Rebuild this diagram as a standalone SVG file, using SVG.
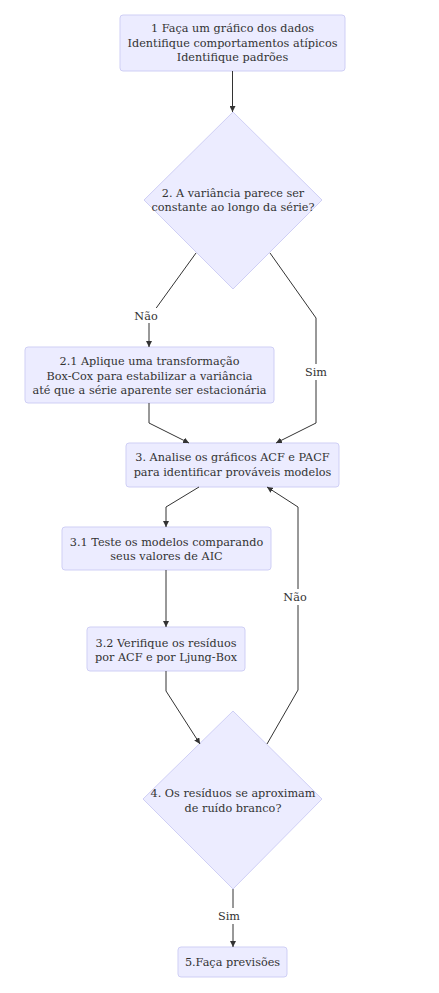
<svg xmlns="http://www.w3.org/2000/svg" width="439" height="993" viewBox="0 0 439 993">
<style>
  .node rect, .node polygon { fill: #ECECFF; stroke: #CFCFF5; stroke-width: 1; }
  text { font-family: "DejaVu Serif", "Liberation Serif", serif; font-size: 11.25px; fill: #333; text-anchor: middle; }
  .edge { fill: none; stroke: #333; stroke-width: 1; }
  .lblbg { fill: #ffffff; }
</style>
<defs>
  <marker id="arrow" viewBox="0 0 10 10" refX="10" refY="5" markerWidth="6" markerHeight="6" orient="auto" markerUnits="userSpaceOnUse">
    <path d="M0,0 L10,5 L0,10 z" fill="#333"/>
  </marker>
</defs>
<rect width="439" height="993" fill="#ffffff"/>

<g id="n1" class="node">
  <rect x="120" y="15" width="225" height="56" rx="3" ry="3"/>
  <text x="232.5" y="32">1 Faça um gráfico dos dados</text>
  <text x="232.5" y="47">Identifique comportamentos atípicos</text>
  <text x="232.5" y="61">Identifique padrões</text>
</g>
<g id="n2" class="node">
  <polygon points="233,112 322,200 233,289 144,200"/>
  <text x="233" y="197">2. A variância parece ser</text>
  <text x="233" y="211">constante ao longo da série?</text>
</g>
<g id="n21" class="node">
  <rect x="25" y="347" width="249" height="56" rx="3" ry="3"/>
  <text x="149.5" y="365">2.1 Aplique uma transformação</text>
  <text x="149.5" y="380">Box-Cox para estabilizar a variância</text>
  <text x="149.5" y="394">até que a série aparente ser estacionária</text>
</g>
<g id="n3" class="node">
  <rect x="126" y="443" width="213" height="44" rx="3" ry="3"/>
  <text x="232.5" y="461">3. Analise os gráficos ACF e PACF</text>
  <text x="232.5" y="476">para identificar prováveis modelos</text>
</g>
<g id="n31" class="node">
  <rect x="62" y="527" width="209" height="43" rx="3" ry="3"/>
  <text x="166.5" y="546">3.1 Teste os modelos comparando</text>
  <text x="166.5" y="560">seus valores de AIC</text>
</g>
<g id="n32" class="node">
  <rect x="87" y="627" width="158" height="44" rx="3" ry="3"/>
  <text x="166" y="647">3.2 Verifique os resíduos</text>
  <text x="166" y="661">por ACF e por Ljung-Box</text>
</g>
<g id="n4" class="node">
  <polygon points="233,711 322,799 233,889 143,799"/>
  <text x="233" y="797">4. Os resíduos se aproximam</text>
  <text x="233" y="812">de ruído branco?</text>
</g>
<g id="n5" class="node">
  <rect x="178" y="947" width="109" height="30" rx="3" ry="3"/>
  <text x="232.5" y="966">5.Faça previsões</text>
</g>

<g id="connectors">
  <path class="edge" d="M232.5,71 L232.5,112" marker-end="url(#arrow)"/>
  <path class="edge" d="M196,253 L149,318 L149,347" marker-end="url(#arrow)"/>
  <path class="edge" d="M270,253 L316,318 L316,423 L276,443" marker-end="url(#arrow)"/>
  <path class="edge" d="M149,403 L149,423 L189,443" marker-end="url(#arrow)"/>
  <path class="edge" d="M199,487 L166,507 L166,527" marker-end="url(#arrow)"/>
  <path class="edge" d="M166,570 L166,627" marker-end="url(#arrow)"/>
  <path class="edge" d="M166,671 L166,691 L200,744" marker-end="url(#arrow)"/>
  <path class="edge" d="M267,744 L298,690 L298,507 L267,487" marker-end="url(#arrow)"/>
  <path class="edge" d="M233,889 L233,947" marker-end="url(#arrow)"/>
  <g id="labels">
    <rect class="lblbg" x="133" y="308" width="26" height="15"/>
    <text x="146" y="320">Não</text>
    <rect class="lblbg" x="304" y="364" width="24" height="16"/>
    <text x="316" y="376">Sim</text>
    <rect class="lblbg" x="282" y="589" width="26" height="16"/>
    <text x="295" y="601">Não</text>
    <rect class="lblbg" x="219" y="908" width="24" height="16"/>
    <text x="229" y="920">Sim</text>
  </g>
</g>
</svg>
